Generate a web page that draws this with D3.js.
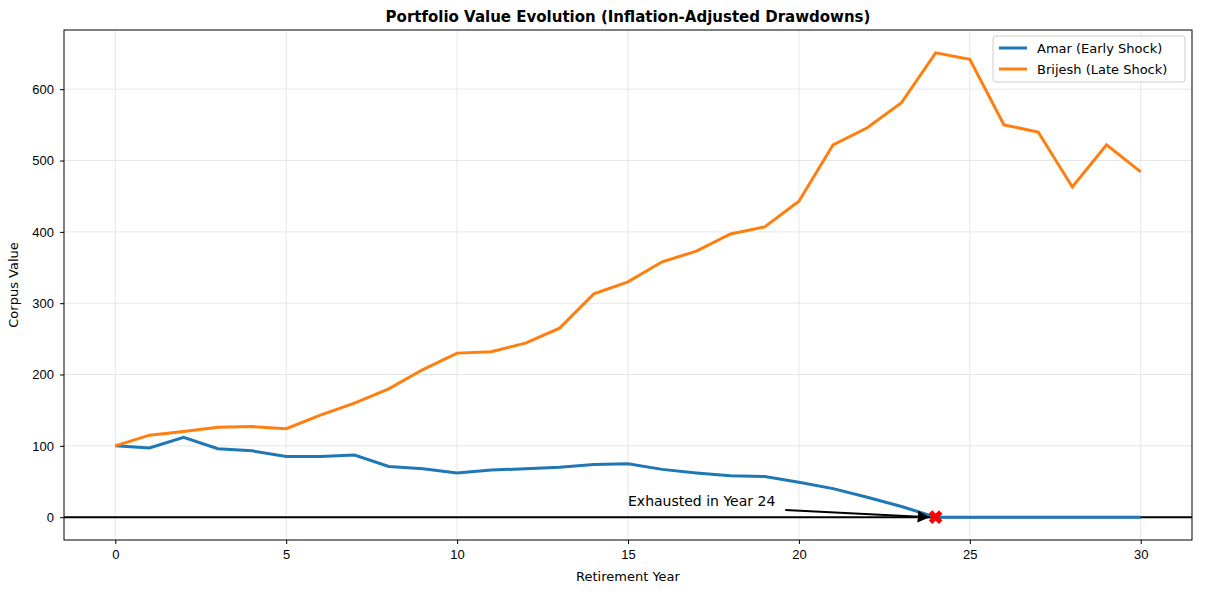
<!DOCTYPE html>
<html><head><meta charset="UTF-8">
<script src="https://d3js.org/d3.v7.min.js"></script>
<style>body{margin:0;background:#fff;font-family:"DejaVu Sans",sans-serif}</style>
</head><body><div id="chart"></div>
<script>
const years = d3.range(0, 31);
const amar = [100,97,112,96,93,85,85,87,71,68,62,66,68,70,74,75,67,62,58,57,49,40,28,15,0,0,0,0,0,0,0];
const brijesh = [100,115,120,126,127,124,143,160,180,207,230,232,244,265,313,330,358,373,397,407,443,522,546,581,651,642,550,540,463,522,484];
const xTicks = [0,5,10,15,20,25,30];
const yTicks = [0,100,200,300,400,500,600];

const W = 1214, H = 602, m = {l:64, r:22, t:30, b:62};
const svg = d3.select("#chart").append("svg").attr("width", W).attr("height", H);
const x = d3.scaleLinear().domain([-1.5, 31.5]).range([m.l, W - m.r]);
const y = d3.scaleLinear().domain([-32, 683]).range([H - m.b, m.t]);

// grid
svg.append("g").selectAll("line").data(xTicks).join("line")
  .attr("x1", d => x(d)).attr("x2", d => x(d)).attr("y1", m.t).attr("y2", H - m.b)
  .attr("stroke", "#e6e6e6");
svg.append("g").selectAll("line").data(yTicks).join("line")
  .attr("y1", d => y(d)).attr("y2", d => y(d)).attr("x1", m.l).attr("x2", W - m.r)
  .attr("stroke", "#e6e6e6");

// zero line
svg.append("line").attr("x1", m.l).attr("x2", W - m.r).attr("y1", y(0)).attr("y2", y(0))
  .attr("stroke", "#000").attr("stroke-width", 2);

const xa = svg.append("g").attr("transform", `translate(0,${H - m.b})`)
  .call(d3.axisBottom(x).tickValues(xTicks).tickSize(4).tickPadding(6));
const ya = svg.append("g").attr("transform", `translate(${m.l},0)`)
  .call(d3.axisLeft(y).tickValues(yTicks).tickSize(4).tickPadding(6));
[xa, ya].forEach(a => { a.select(".domain").remove(); a.selectAll("text").attr("font-size", 13).attr("fill", "#000"); });

svg.append("rect").attr("x", m.l).attr("y", m.t).attr("width", W - m.l - m.r).attr("height", H - m.t - m.b)
  .attr("fill", "none").attr("stroke", "#000");

const line = d3.line().x((d, i) => x(years[i])).y(d => y(d));
svg.append("path").datum(amar).attr("d", line).attr("fill", "none").attr("stroke", "#1f77b4").attr("stroke-width", 3);
svg.append("path").datum(brijesh).attr("d", line).attr("fill", "none").attr("stroke", "#ff7f0e").attr("stroke-width", 3);

// exhaustion marker + annotation
const ex = 24;
svg.append("defs").append("marker").attr("id", "ah").attr("viewBox", "0 0 10 10").attr("refX", 10).attr("refY", 5)
  .attr("markerWidth", 6).attr("markerHeight", 6).attr("orient", "auto")
  .append("path").attr("d", "M0,0L10,5L0,10z").attr("fill", "#000");
svg.append("line").attr("x1", x(19.6)).attr("y1", y(10)).attr("x2", x(ex) - 6).attr("y2", y(0))
  .attr("stroke", "#000").attr("stroke-width", 2).attr("marker-end", "url(#ah)");
svg.append("path").attr("d", d3.symbol(d3.symbolX, 70)())
  .attr("transform", `translate(${x(ex)},${y(0)})`)
  .attr("fill", "red").attr("stroke", "red").attr("stroke-width", 5);
svg.append("text").attr("x", x(15)).attr("y", y(16)).attr("font-size", 14)
  .text("Exhausted in Year 24");

svg.append("text").attr("x", (m.l + W - m.r) / 2).attr("y", 22).attr("text-anchor", "middle")
  .attr("font-size", 15).attr("font-weight", "bold").text("Portfolio Value Evolution (Inflation-Adjusted Drawdowns)");
svg.append("text").attr("x", x(15)).attr("y", 581).attr("text-anchor", "middle").attr("font-size", 13).text("Retirement Year");
svg.append("text").attr("transform", `translate(18,${(m.t + H - m.b) / 2}) rotate(-90)`).attr("text-anchor", "middle")
  .attr("font-size", 13).text("Corpus Value");

// legend
const lg = svg.append("g").attr("transform", "translate(993,36)");
lg.append("rect").attr("width", 192).attr("height", 46).attr("rx", 3).attr("fill", "#fff").attr("stroke", "#ccc");
[["Amar (Early Shock)", "#1f77b4"], ["Brijesh (Late Shock)", "#ff7f0e"]].forEach((d, i) => {
  lg.append("line").attr("x1", 6).attr("x2", 34).attr("y1", 12 + i * 21).attr("y2", 12 + i * 21).attr("stroke", d[1]).attr("stroke-width", 3);
  lg.append("text").attr("x", 44).attr("y", 17 + i * 21).attr("font-size", 13).text(d[0]);
});
</script></body></html>
